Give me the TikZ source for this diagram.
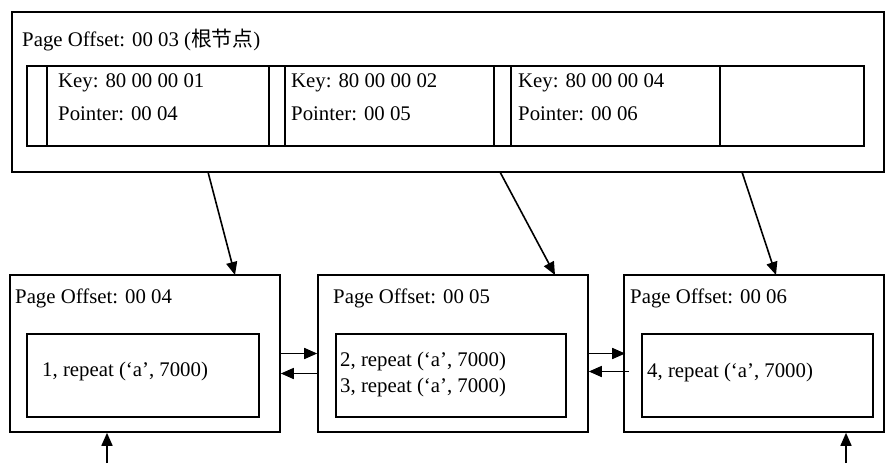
\documentclass[tikz,border=0pt]{standalone}
\usepackage{fontspec}
\setmainfont{Liberation Serif}
\newfontfamily\cjk{Noto Sans CJK SC}
\usetikzlibrary{arrows.meta}

\begin{document}
\begin{tikzpicture}[x=1pt,y=-1pt,
  pbox/.style={draw,line width=1.6pt,inner sep=0pt},
  txt/.style={anchor=base west,inner sep=0pt,font=\fontsize{20.8}{24}\selectfont},
  arr/.style={-{Triangle[length=13pt,width=11pt]},line width=1.6pt}]
    \useasboundingbox (0,0) rectangle (885,463);

    % root page
    \node[pbox,minimum width=872pt,minimum height=160pt] (root) at (448,92) {};
    \node[txt] (roott) at (22,46) {Page Offset: 00 03 ({\cjk 根节点})};
    \node[pbox,minimum width=20pt,minimum height=80pt] (c0) at (37,106) {};
    \node[pbox,minimum width=222pt,minimum height=80pt] (k1) at (158,106) {};
    \node[pbox,minimum width=16pt,minimum height=80pt] (c1) at (277,106) {};
    \node[pbox,minimum width=209pt,minimum height=80pt] (k2) at (389.5,106) {};
    \node[pbox,minimum width=17pt,minimum height=80pt] (c2) at (502.5,106) {};
    \node[pbox,minimum width=209pt,minimum height=80pt] (k3) at (615.5,106) {};
    \node[pbox,minimum width=144pt,minimum height=80pt] (c3) at (792,106) {};
    \node[txt] (k1a) at (58,87) {Key: 80 00 00 01};
    \node[txt] (k1b) at (58,120) {Pointer: 00 04};
    \node[txt] (k2a) at (291,87) {Key: 80 00 00 02};
    \node[txt] (k2b) at (291,120) {Pointer: 00 05};
    \node[txt] (k3a) at (518,87) {Key: 80 00 00 04};
    \node[txt] (k3b) at (518,120) {Pointer: 00 06};

    % leaf pages
    \node[pbox,minimum width=270pt,minimum height=157pt] (p4) at (145,353.5) {};
    \node[pbox,minimum width=270pt,minimum height=157pt] (p5) at (453,353.5) {};
    \node[pbox,minimum width=260pt,minimum height=157pt] (p6) at (754,353.5) {};
    \node[pbox,minimum width=232pt,minimum height=83pt] (r4) at (143,375.5) {};
    \node[pbox,minimum width=230pt,minimum height=83pt] (r5) at (451,375.5) {};
    \node[pbox,minimum width=231pt,minimum height=83pt] (r6) at (757.5,375.5) {};
    \node[txt] (p4t) at (15,303) {Page Offset: 00 04};
    \node[txt] (p5t) at (333,303) {Page Offset: 00 05};
    \node[txt] (p6t) at (630,303) {Page Offset: 00 06};
    \node[txt] (r4a) at (42,376) {1, repeat (`a', 7000)};
    \node[txt] (r5a) at (340,366) {2, repeat (`a', 7000)};
    \node[txt] (r5b) at (340,392) {3, repeat (`a', 7000)};
    \node[txt] (r6a) at (647,377) {4, repeat (`a', 7000)};

    % pointers
    \coordinate (s1) at (208,172);
    \coordinate (s2) at (500,172);
    \coordinate (s3) at (742,172);
    \coordinate (u1) at (107,463);
    \coordinate (u2) at (846,463);
    \draw[arr] (s1) -- (235,275);
    \draw[arr] (s2) -- (555,275);
    \draw[arr] (s3) -- (776,275);
    \draw[arr] (p4.east) -- (p5.west);
    \draw[arr] ([yshift=-20pt]p5.west) -- ([yshift=-20pt]p4.east);
    \draw[arr] (p5.east) -- ([xshift=2pt]p6.west);
    \draw[arr] ([xshift=6pt,yshift=-18pt]p6.west) -- ([yshift=-18pt]p5.east);
    \draw[arr] (u1) -- (u1 |- p4.south);
    \draw[arr] (u2) -- (u2 |- p6.south);
\end{tikzpicture}
\end{document}
